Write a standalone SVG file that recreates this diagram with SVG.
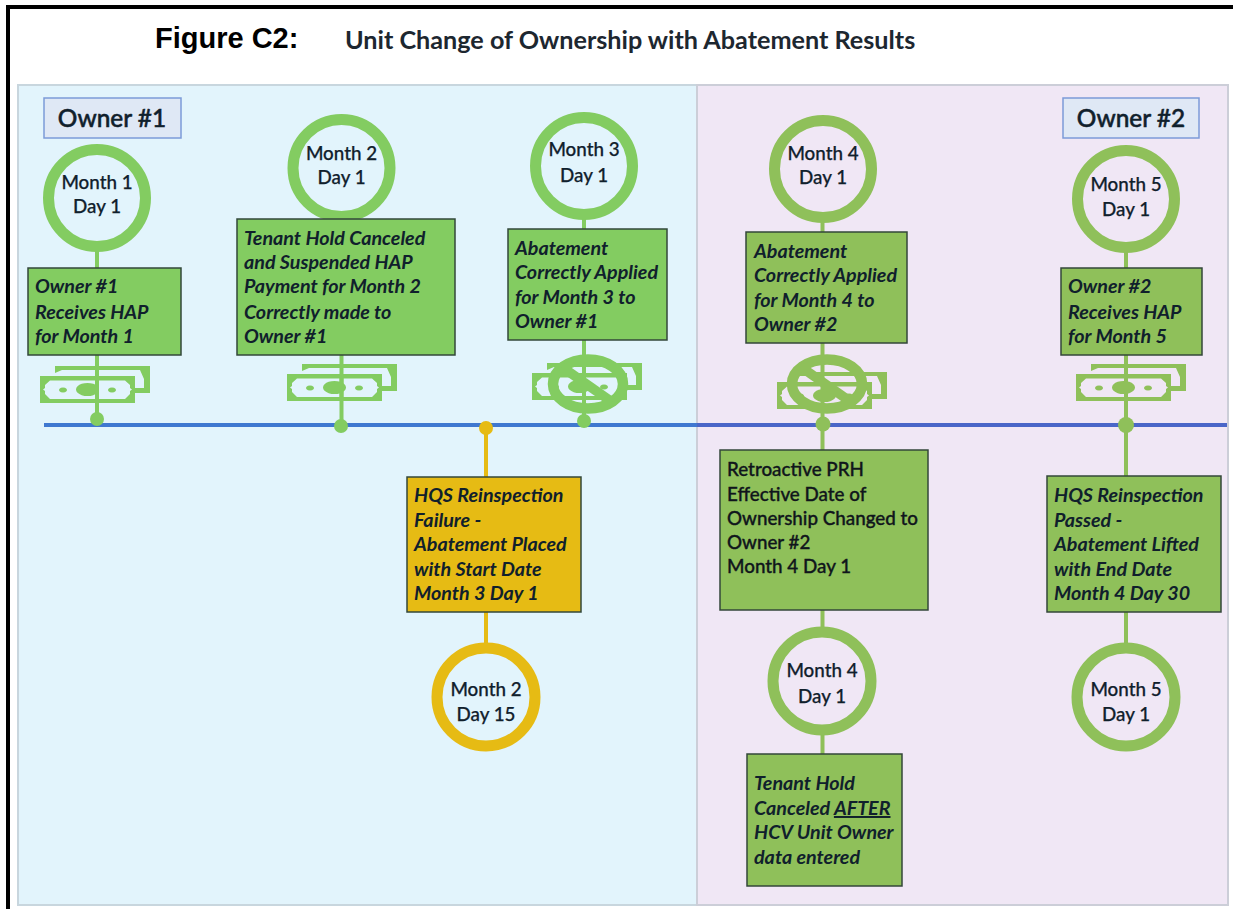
<svg xmlns="http://www.w3.org/2000/svg" xmlns:xlink="http://www.w3.org/1999/xlink" width="1233" height="909" viewBox="0 0 1233 909">
<style>
text{font-family:"Lato","Carlito","Open Sans",sans-serif;fill:#10202c;transform:translateY(1px)}
.n{font-size:18.800px;font-weight:500;text-anchor:middle;stroke:#10202c;stroke-width:.25}
.b{font-size:19.700px;font-weight:700;font-style:italic}
.u{font-size:18.800px;font-weight:500;fill:#10151c;stroke:#10151c;stroke-width:.35}
.o{font-size:24.400px;font-weight:500;text-anchor:middle;stroke:#10202c;stroke-width:.5}
.gl{fill:#83cc61}.gr{fill:#8fc05a}
.rl{fill:none;stroke:#83cc61;stroke-width:11}
.rr{fill:none;stroke:#8fc05a;stroke-width:11}
.ry{fill:none;stroke:#e6bb14;stroke-width:11}
.bx{stroke:#33473a;stroke-width:1.5}
.cl{stroke:#83cc61;stroke-width:4;fill:none}
.cr{stroke:#8fc05a;stroke-width:4;fill:none}
.cy{stroke:#e6bb14;stroke-width:4;fill:none}
.own{fill:#dfe8f5;stroke:#7c9bd8;stroke-width:1.5}
</style>
<defs>
<path id="money" fill-rule="evenodd" d="M0,10H95V37H0ZM5,19V22L3,23.500L5,25V28L10,33H85L90,28V25L92,23.500L90,22V19L85,14.500H10ZM15,0H110V27H95V22H104V13L100,4H22L15,7Z M47.500,17a11.500,6.500 0 1 0 .01,0Z M23,21.500a4,2.500 0 1 0 .01,0Z M72,21.500a4,2.500 0 1 0 .01,0Z"/>
<g id="nosign"><ellipse cx="0" cy="0" rx="35" ry="24.500" fill="none" stroke="currentColor" stroke-width="10.500"/><path d="M-26,-17L24,18" stroke="currentColor" stroke-width="9.500"/></g>
</defs>
<rect width="1233" height="909" fill="#ffffff"/>
<path d="M8,909V7H1233" fill="none" stroke="#000000" stroke-width="4"/>
<g id="title">
<text x="155" y="47" style="font-family:'Liberation Sans',Arial,sans-serif;font-size:29px;font-weight:700;fill:#000">Figure C2:</text>
<text x="345" y="48" style="font-size:25.200px;font-weight:700;fill:#1d2730">Unit Change of Ownership with Abatement Results</text>
</g>
<g id="panels">
<rect x="18" y="85" width="679" height="820" fill="#e2f4fc" stroke="#c8d6de" stroke-width="2"/>
<rect x="697" y="85" width="531" height="820" fill="#f0e7f5" stroke="#ccced8" stroke-width="2"/>
</g>
<g id="connectors">
<path class="cl" d="M97,250V270M97,353V419"/>
<path class="cl" d="M341.500,220V222M341.500,353V426"/>
<path class="cl" d="M584,218V231M584,338V421"/>
<path class="cr" d="M822.500,222V234M822.500,341V452M822.500,608V628M822.500,733V756"/>
<path class="cr" d="M1126,252V270M1126,353V478M1126,610V645"/>
<path class="cy" d="M486,428V479M486,610V645"/>
<path d="M44,425H697" stroke="#3f78d0" stroke-width="4"/>
<path d="M697,425H1227" stroke="#4a66c8" stroke-width="4"/>
</g>
<g id="owner1"><rect class="own" x="44" y="98" width="137" height="40"/><text class="o" x="112" y="126">Owner #1</text></g>
<g id="owner2"><rect class="own" x="1063" y="98" width="136" height="40"/><text class="o" x="1131" y="126">Owner #2</text></g>

<g id="m1"><circle class="rl" cx="97" cy="198" r="48.500"/><text class="n" x="97" y="188">Month 1</text><text class="n" x="97" y="212">Day 1</text></g>
<g id="m2"><circle class="rl" cx="341.500" cy="168" r="48.500"/><text class="n" x="341.500" y="159">Month 2</text><text class="n" x="341.500" y="183">Day 1</text></g>
<g id="m3"><circle class="rl" cx="584" cy="166" r="48.500"/><text class="n" x="584" y="155">Month 3</text><text class="n" x="584" y="181">Day 1</text></g>
<g id="m4"><circle class="rr" cx="823" cy="169" r="48.500"/><text class="n" x="823" y="159">Month 4</text><text class="n" x="823" y="183">Day 1</text></g>
<g id="m5"><circle class="rr" cx="1126" cy="199" r="48.500"/><text class="n" x="1126" y="190">Month 5</text><text class="n" x="1126" y="215">Day 1</text></g>
<g id="m2d15"><circle class="ry" cx="486" cy="697" r="49"/><text class="n" x="486" y="695">Month 2</text><text class="n" x="486" y="720">Day 15</text></g>
<g id="m4b"><circle class="rr" cx="822" cy="681" r="49"/><text class="n" x="822" y="676">Month 4</text><text class="n" x="822" y="702">Day 1</text></g>
<g id="m5b"><circle class="rr" cx="1126" cy="697" r="49"/><text class="n" x="1126" y="695">Month 5</text><text class="n" x="1126" y="720">Day 1</text></g>

<g id="b1"><rect class="gl bx" x="28" y="268" width="153" height="87"/><text class="b" x="35" y="292">Owner #1</text><text class="b" x="35" y="318">Receives HAP</text><text class="b" x="35" y="342">for Month 1</text></g>
<g id="b2"><rect class="gl bx" x="237" y="219" width="218" height="136"/><text class="b" x="244" y="244">Tenant Hold Canceled</text><text class="b" x="244" y="268">and Suspended HAP</text><text class="b" x="244" y="292">Payment for Month 2</text><text class="b" x="244" y="318">Correctly made to</text><text class="b" x="244" y="342">Owner #1</text></g>
<g id="b3"><rect class="gl bx" x="508" y="229" width="159" height="111"/><text class="b" x="515" y="254">Abatement</text><text class="b" x="515" y="278">Correctly Applied</text><text class="b" x="515" y="303">for Month 3 to</text><text class="b" x="515" y="327">Owner #1</text></g>
<g id="b4"><rect class="gr bx" x="746" y="232" width="161" height="111"/><text class="b" x="754" y="257">Abatement</text><text class="b" x="754" y="281">Correctly Applied</text><text class="b" x="754" y="306">for Month 4 to</text><text class="b" x="754" y="330">Owner #2</text></g>
<g id="b5"><rect class="gr bx" x="1061" y="268" width="141" height="87"/><text class="b" x="1068" y="292">Owner #2</text><text class="b" x="1068" y="318">Receives HAP</text><text class="b" x="1068" y="342">for Month 5</text></g>
<g id="by"><rect x="407" y="477" width="174" height="135" fill="#e6bb14" class="bx"/><text class="b" x="414" y="501">HQS Reinspection</text><text class="b" x="414" y="526">Failure -</text><text class="b" x="414" y="550">Abatement Placed</text><text class="b" x="414" y="575">with Start Date</text><text class="b" x="414" y="599">Month 3 Day 1</text></g>
<g id="br"><rect class="gr bx" x="720" y="450" width="208" height="160"/><text class="u" x="727" y="475">Retroactive PRH</text><text class="u" x="727" y="500">Effective Date of</text><text class="u" x="727" y="524">Ownership Changed to</text><text class="u" x="727" y="548">Owner #2</text><text class="u" x="727" y="572">Month 4 Day 1</text></g>
<g id="bh"><rect class="gr bx" x="1047" y="476" width="174" height="136"/><text class="b" x="1054" y="501">HQS Reinspection</text><text class="b" x="1054" y="526">Passed -</text><text class="b" x="1054" y="550">Abatement Lifted</text><text class="b" x="1054" y="575">with End Date</text><text class="b" x="1054" y="599">Month 4 Day 30</text></g>
<g id="bt"><rect class="gr bx" x="747" y="754" width="155" height="132"/><text class="b" x="754" y="789">Tenant Hold</text><text class="b" x="754" y="814">Canceled <tspan text-decoration="underline">AFTER</tspan></text><text class="b" x="754" y="838">HCV Unit Owner</text><text class="b" x="754" y="863">data entered</text></g>

<g id="money1"><use xlink:href="#money" href="#money" x="40" y="366" fill="#83cc61"/><path class="cl" d="M97,376V402"/></g>
<g id="money2"><use xlink:href="#money" href="#money" x="287" y="364" fill="#83cc61"/><path class="cl" d="M341.500,374V400"/></g>
<g id="money3"><use xlink:href="#money" href="#money" x="532" y="363" fill="#83cc61"/><use xlink:href="#nosign" href="#nosign" x="588" y="384" color="#83cc61"/></g>
<g id="money4"><use xlink:href="#money" href="#money" x="777" y="372" fill="#8fc05a"/><use xlink:href="#nosign" href="#nosign" x="827" y="384" color="#8fc05a"/></g>
<g id="money5"><use xlink:href="#money" href="#money" x="1076" y="364" fill="#8fc05a"/><path class="cr" d="M1126,374V400"/></g>
<g id="dots">
<circle class="gl" cx="97" cy="419" r="7"/><circle class="gl" cx="341" cy="426" r="7"/><circle cx="486" cy="428" r="7" fill="#e6bb14"/><circle class="gl" cx="584" cy="421" r="7"/><circle class="gr" cx="823" cy="424" r="7.500"/><circle class="gr" cx="1126" cy="425" r="8"/>
</g>
</svg>
